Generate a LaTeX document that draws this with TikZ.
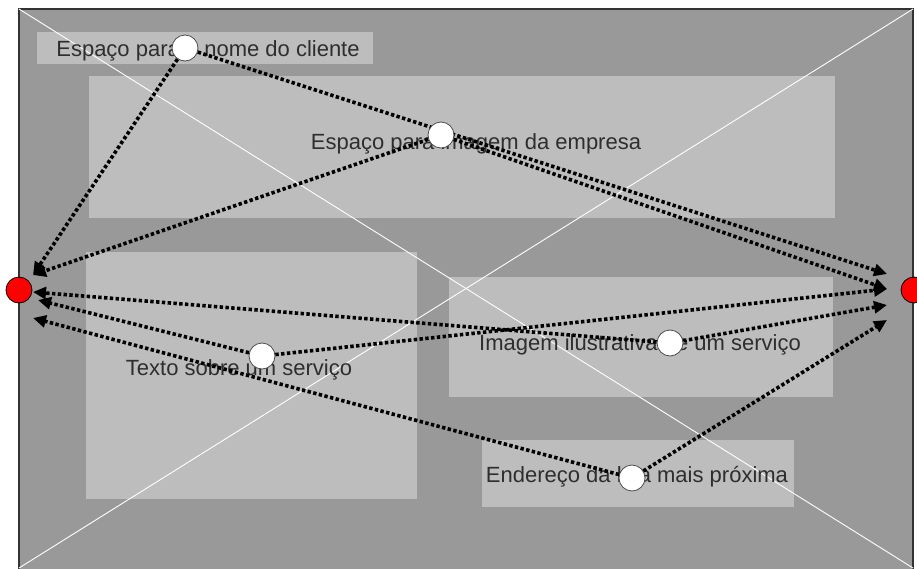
\documentclass[tikz,border=0pt]{standalone}
\usepackage{fontspec}
\setmainfont{Liberation Sans}
\usetikzlibrary{arrows.meta}
\definecolor{panel}{HTML}{999999}
\definecolor{slot}{HTML}{BDBDBD}
\definecolor{label}{HTML}{2E2E2E}
\pgfdeclarelayer{boxes}
\pgfdeclarelayer{wires}
\pgfsetlayers{boxes,wires,main}
\begin{document}
\begin{tikzpicture}[x=1pt,y=-1pt,
  slotbox/.style={fill=slot, draw=none},
  slottext/.style={text=label, font=\fontsize{22}{26}\selectfont, anchor=base, inner sep=0pt},
  flow/.style={black, line width=3.6pt, dash pattern=on 3.4pt off 2.4pt,
    -{Triangle[length=13pt,width=12pt]}},
  hub/.style={circle, fill=white, draw=black!70, line width=0.8pt, minimum size=26pt, inner sep=0pt},
  port/.style={circle, fill=red, draw=black, line width=0.8pt, minimum size=26pt, inner sep=0pt},
]
\useasboundingbox (0,0) rectangle (917,568);

\begin{pgfonlayer}{boxes}
  % page frame with its placeholder cross
  \path[fill=panel, draw=black!80, line width=1.2pt] (19,9) rectangle (913,572);
  % content slots
  \path[slotbox] (37,32) rectangle (373,64);
  \path[slotbox] (89,76) rectangle (835,218);
  \path[slotbox] (86,252) rectangle (417,499);
  \path[slotbox] (449,277) rectangle (833,397);
  \path[slotbox] (482,440) rectangle (794,507);
  \draw[white, line width=0.9pt] (19,9) -- (913,568);
  \draw[white, line width=0.9pt] (913,9) -- (19,568);
  % slot captions
  \node[slottext] (t1) at (208,56) {Espaço para o nome do cliente};
  \node[slottext] (t2) at (476,149) {Espaço para imagem da empresa};
  \node[slottext] (t3) at (239,375) {Texto sobre um serviço};
  \node[slottext] (t4) at (640,350) {Imagem ilustrativa de um serviço};
  \node[slottext] (t5) at (637,482) {Endereço da loja mais próxima};
\end{pgfonlayer}

% entry / exit ports
\node[port] (L) at (19,290) {};
\node[port] (R) at (914,290) {};

% hotspots
\node[hub] (A) at (185,48) {};
\node[hub] (B) at (441,135) {};
\node[hub] (C) at (262,356) {};
\node[hub] (D) at (670,343) {};
\node[hub] (E) at (632,478) {};

% arrow landing points beside the ports
\coordinate (L1) at (33,275);
\coordinate (L2) at (33,292);
\coordinate (L3) at (38,300);
\coordinate (L4) at (33,318);
\coordinate (R1) at (887,274);
\coordinate (R2) at (887,289);
\coordinate (R3) at (887,305);
\coordinate (R4) at (887,320);

\begin{pgfonlayer}{wires}
  \draw[flow] (A) -- (L1);
  \draw[flow] (B) -- (L1);
  \draw[flow] (D) -- (L2);
  \draw[flow] (C) -- (L3);
  \draw[flow] (E) -- (L4);
  \draw[flow] (A) -- (R1);
  \draw[flow] (B) -- (R2);
  \draw[flow] (C) -- (R2);
  \draw[flow] (D) -- (R3);
  \draw[flow] (E) -- (R4);
\end{pgfonlayer}
\end{tikzpicture}
\end{document}
